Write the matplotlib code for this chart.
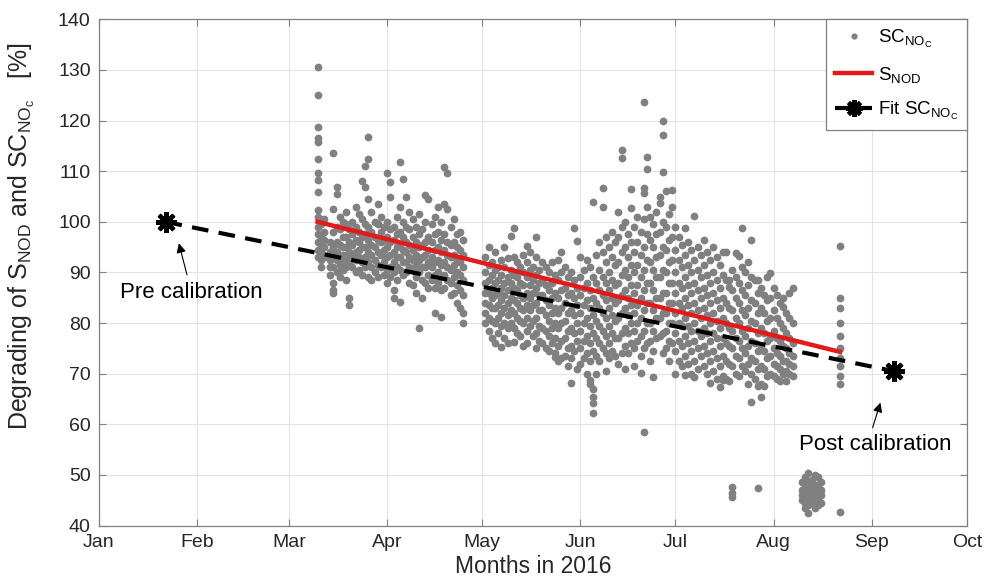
import datetime as dt

import matplotlib.dates as mdates
import matplotlib.pyplot as plt

plt.rcParams['font.family'] = ['Liberation Sans', 'DejaVu Sans']
plt.rcParams['mathtext.fontset'] = 'custom'
plt.rcParams['mathtext.rm'] = 'Liberation Sans'
plt.rcParams['mathtext.it'] = 'Liberation Sans'
plt.rcParams['mathtext.default'] = 'rm'

# SC_NO_C readings in %, per day of month: (day, [values])
mar = [
    (10, [130.5, 125, 118.8, 116.5, 115.7, 112.4, 109.7, 108.2, 105.9, 102.3, 101, 99, 97.5, 96, 94.5, 93]),
    (11, [99.5, 97, 95.5, 94, 92.5, 91]),
    (12, [100.5, 98, 96.5, 95, 93]),
    (14, [96, 94, 92.5, 91, 89.5]),
    (15, [113.5, 102.5, 98, 95, 93, 91, 88, 86.5, 86]),
    (16, [106.9, 105.5, 99, 96, 94, 92.5, 90]),
    (17, [101, 98.5, 95.5, 93, 91.5, 89]),
    (18, [100, 97, 95, 93.5, 92, 90.5]),
    (19, [102, 99.5, 97, 95, 93, 91, 88.5]),
    (20, [98.5, 96, 94, 92, 85, 83.5]),
    (21, [100, 97.5, 95.5, 93.5, 91]),
    (22, [103, 99, 96.5, 94, 92.5, 90]),
    (23, [101.5, 98, 96, 94.5, 93, 90.5]),
    (24, [108, 100.5, 97, 95, 92, 89.5]),
    (25, [111, 106.9, 99.5, 97.5, 95, 93, 91]),
    (26, [116.8, 112.5, 104.5, 99, 96.5, 94, 92, 89]),
    (27, [102, 98, 95.5, 93.5, 91, 88.5]),
    (28, [100, 97, 95, 92.5, 90]),
    (29, [103.5, 99.5, 96.5, 94, 91.5, 89]),
    (30, [101, 98, 96, 93.5, 91]),
    (31, [99, 96.5, 94.5, 92, 89.5]),
]
apr = [
    (1, [109.6, 100, 97, 95, 93, 90.5, 88]),
    (2, [107.9, 104.9, 98.5, 96, 93.5, 91, 89]),
    (3, [99, 96.5, 94, 92, 90, 86.5, 85]),
    (4, [101, 97.5, 95, 93, 91, 88.5]),
    (5, [111.9, 103, 98, 95.5, 93, 90.5, 84.2]),
    (6, [108.4, 100, 97, 94.5, 92, 89.5]),
    (7, [104.9, 99, 96, 94, 92, 90]),
    (8, [102, 98.5, 95.5, 93, 91, 88]),
    (9, [100.5, 97, 94.5, 92.5, 90.5, 87.5]),
    (10, [99, 96, 93.5, 91.5, 89, 86]),
    (11, [101.5, 97.5, 95, 92.5, 90, 79]),
    (12, [98.5, 95.5, 93, 91, 88.5, 85]),
    (13, [105.3, 100, 96, 93.5, 91, 88]),
    (14, [104.5, 97, 94.5, 92, 89.5, 87]),
    (15, [99.5, 96, 93, 91, 88.5]),
    (16, [101, 97.5, 94.5, 92, 89.5, 87, 82]),
    (17, [103, 98, 95, 92.5, 90, 88]),
    (18, [100, 96.5, 94, 91.5, 89, 86.5, 81.2]),
    (19, [110.8, 103.5, 97.5, 94.5, 92, 89.5, 87]),
    (20, [109.7, 102.5, 96, 93.5, 91, 88.5]),
    (21, [99, 95.5, 93, 90.5, 88, 85.5]),
    (22, [100.5, 96, 93.5, 91.5, 89, 86]),
    (23, [97.5, 95, 92.5, 90, 87.5, 84]),
    (24, [98, 94.5, 92, 89.5, 86.5, 83]),
    (25, [96.5, 93.5, 91, 88.5, 85.5, 82, 80]),
]
may = [
    (2, [93, 90, 88, 86, 84, 82, 80]),
    (3, [95, 91.5, 88.5, 86, 83.5, 81, 78.5]),
    (4, [92, 89.5, 87, 85, 83, 80.5, 77]),
    (5, [94, 90.5, 88, 85.5, 83, 80, 76]),
    (6, [91, 88.5, 86, 83.5, 81, 78]),
    (7, [92.5, 89.5, 87, 84.5, 82, 79.5, 75.3]),
    (8, [95, 91, 88, 85.5, 83, 80, 77]),
    (9, [92.8, 89, 86.5, 84, 81.5, 79, 76]),
    (10, [97.2, 90.5, 88, 85, 82.5, 80]),
    (11, [98.8, 93, 89.5, 87, 84.5, 82, 79, 76.3]),
    (12, [92, 89, 86.5, 84, 81, 78]),
    (13, [91, 88, 85.5, 83, 80.5, 77.5]),
    (14, [93.5, 90, 87.5, 85, 82.5, 80, 75.5]),
    (15, [95.3, 92, 89, 86, 83.5, 81, 78.5, 76]),
    (16, [94, 90.5, 87.5, 85, 82.5, 79.5]),
    (17, [91, 88.5, 86, 83.5, 80.5, 77.5]),
    (18, [97, 93, 89.5, 87, 84, 81, 78, 75]),
    (19, [90.5, 88, 85.5, 82.5, 79.5, 76.5]),
    (20, [92, 88.5, 85.5, 82.5, 79, 76]),
    (21, [91, 87.5, 84.5, 81.5, 78.5, 75]),
    (22, [90, 86.5, 83.5, 80.5, 77.5, 74.5]),
    (23, [92, 88, 85, 82, 79, 76]),
    (24, [89.5, 86, 83, 80, 77, 74, 73.3]),
    (25, [92.4, 88.5, 85, 82, 79, 75.5, 72.5]),
    (26, [94, 90, 86.5, 83, 80, 76.5, 73]),
    (27, [91, 87, 84, 80.5, 77, 73.5]),
    (28, [89, 85.5, 82, 78.5, 75, 71.5]),
    (29, [90, 86, 82.5, 79, 75.5, 73, 68.1]),
    (30, [98.8, 88.5, 85, 81.5, 78, 74.5]),
    (31, [96.2, 87, 83.5, 80, 76.5, 71]),
]
jun = [
    (1, [93, 89, 85.5, 82, 78.5, 75, 72]),
    (2, [90.5, 87, 83.5, 80, 76.5, 73]),
    (3, [92.4, 88, 84.5, 81, 77.5, 74, 70]),
    (4, [91, 86.5, 83, 79.5, 76, 72.5, 68.7, 68]),
    (5, [104, 89, 85, 81.5, 78, 74.5, 67, 65.4, 64.2, 62.3]),
    (6, [93.5, 88, 84, 80.5, 77, 73.5, 70]),
    (7, [96, 90.5, 86.5, 83, 79.5, 76, 72.5]),
    (8, [106.6, 103, 94, 89, 85.5, 82, 78.5, 75]),
    (9, [97, 92, 88, 84.5, 81, 77.5, 74, 70.5]),
    (10, [95, 90, 86.5, 83, 79.5, 76, 73]),
    (11, [98, 93, 88.5, 85, 81.5, 78, 74.5]),
    (12, [96, 91.5, 87.5, 84, 80.5, 77, 73.5]),
    (13, [102, 97, 92, 88, 84.5, 81, 77, 72]),
    (14, [114.2, 112.6, 99, 94, 89.5, 85.5, 82, 78, 74]),
    (15, [100, 95, 90.5, 86.5, 83, 79, 75.5, 71]),
    (16, [97.5, 93, 89, 85, 81.5, 78, 74]),
    (17, [106.5, 102.7, 96, 91.5, 87.5, 83.5, 80, 76]),
    (18, [99, 94, 90, 86, 82, 78.5, 75, 71.5]),
    (19, [101, 96, 91.5, 87.5, 83.5, 80, 76.5]),
    (20, [98, 93.5, 89, 85, 81, 77.5, 73.5, 70.1]),
    (21, [123.7, 106.6, 105.6, 100.5, 95, 90.5, 86.5, 82.5, 78.5, 75, 58.5]),
    (22, [112.8, 110.4, 103, 97.5, 92.5, 88, 84, 80, 76]),
    (23, [101, 96.5, 92, 88, 84, 80, 76.5, 72.5]),
    (24, [99.5, 95, 90.5, 86.5, 82.5, 78.5, 74.5, 69.4]),
    (25, [102, 97.5, 93, 89, 85, 81, 77]),
    (26, [104.9, 103.7, 98, 93.5, 89, 85, 81, 77.5]),
    (27, [120, 117.1, 109.9, 100, 95, 90.5, 86, 82, 78, 74]),
    (28, [106, 99, 94.5, 90, 86, 82, 78.5, 75]),
    (29, [101.5, 96.5, 92, 88, 84, 80, 76.5, 72.5]),
    (30, [106.3, 102.9, 97, 92.5, 88, 84, 80, 76]),
]
jul = [
    (1, [99, 94.5, 90, 86, 82, 78, 74.5, 70]),
    (2, [97, 92.5, 88, 84, 80, 76.5, 72.5]),
    (3, [95.5, 91, 87, 83, 79.5, 75.5, 71.5]),
    (4, [98.8, 93.5, 89, 85, 81, 77.5, 73.5, 69.7]),
    (5, [96, 91.5, 87.5, 83.5, 79.5, 76, 72]),
    (6, [94.5, 90, 86, 82, 78.5, 74.5, 70]),
    (7, [101.1, 92.5, 88, 84, 80, 76.5, 72.5, 69.3]),
    (8, [95, 90.5, 86.5, 82.5, 78.5, 75, 71]),
    (9, [93.5, 89, 85, 81, 77.5, 73.5]),
    (10, [96.5, 91.5, 87, 83, 79, 75.5, 71.5]),
    (11, [94, 89.5, 85.5, 81.5, 78, 74, 70]),
    (12, [92.5, 88, 84, 80, 76.5, 72.5, 68.1]),
    (13, [95, 90, 86, 82, 78, 74.5, 70.5]),
    (14, [93, 88.5, 84.5, 80.5, 77, 73, 69]),
    (15, [91.5, 87, 83, 79, 75.5, 71.5, 67.4]),
    (16, [94, 89.5, 85, 81, 77, 73.5, 69.5, 68.7]),
    (17, [94.1, 88.5, 84, 80, 76, 72.5, 69]),
    (18, [88.5, 87.1, 83, 79, 75.5, 72, 68.5]),
    (19, [90.5, 86.5, 82.5, 78.5, 75, 71.5, 47.6, 46.5, 45.6]),
    (20, [93.8, 89, 85, 81, 77, 73.5, 70]),
    (21, [93.2, 88, 84, 80, 76.5, 73, 69.5]),
    (22, [98.7, 91, 86.5, 82.5, 78.5, 75, 71.5]),
    (23, [90, 85.5, 81.5, 77.5, 74, 70.5]),
    (24, [92, 87.5, 83, 79, 75.5, 72, 68]),
    (25, [96.4, 89, 84.5, 80.5, 76.5, 73, 70, 64.4]),
    (26, [88.5, 84, 80, 76, 72.5, 69]),
    (27, [88.5, 86, 82, 78, 74.5, 71, 67.5, 47.4]),
    (28, [87, 83, 79, 75, 71.5, 68, 65.4]),
    (29, [85.6, 82, 78, 74.5, 71, 67.5]),
    (30, [89, 84.5, 80.5, 76.5, 73, 69.5]),
    (31, [89.9, 85, 81, 77, 73.5, 70]),
]
aug = [
    (1, [87, 82.5, 78.5, 75, 72, 69.5]),
    (2, [85.5, 81, 77, 74, 71.5, 69]),
    (3, [84, 80, 76.5, 73.5, 71, 68.5]),
    (4, [85, 83.2, 79, 75.5, 72.5, 70]),
    (5, [82, 78, 75, 72.5, 70.5, 68.5]),
    (6, [86, 81, 77, 74, 72, 70]),
    (7, [86.9, 80, 76, 73.5, 71.5, 69.5]),
    (10, [48.5, 47, 46, 45]),
    (11, [49.5, 48, 46.5, 45.5, 44.5, 43.5]),
    (12, [50.3, 48.5, 47.5, 46, 45, 44, 42.4]),
    (13, [49, 47.5, 46.5, 45.5, 44.5]),
    (14, [50, 48, 47, 46, 45, 43.5]),
    (15, [49.5, 48, 46.5, 45.5, 44]),
    (16, [48.5, 47, 46, 44.5]),
    (22, [95.3, 85, 83, 80, 77.5, 75, 73, 71.5, 69.5, 68, 42.7]),
]
months = [(3, mar), (4, apr), (5, may), (6, jun), (7, jul), (8, aug)]

# S_NOD linear degradation and the pre/post calibration fit
snod_dates = [dt.date(2016, 3, 10), dt.date(2016, 8, 22)]
snod_vals = [100, 74.3]
fit_dates = [dt.date(2016, 1, 22), dt.date(2016, 9, 8)]
fit_vals = [100, 70.5]

sc_dates = []
sc_vals = []
for m, days in months:
    for d, vals in days:
        for v in vals:
            sc_dates.append(dt.date(2016, m, d))
            sc_vals.append(v)

fig = plt.figure(figsize=(9.85, 5.86), dpi=100)
ax = fig.add_axes([0.1005, 0.1032, 0.881, 0.8638])

ax.plot(sc_dates, sc_vals, 'o', color='#808080', markersize=5.6, markeredgewidth=0,
        label=r'SC$_{NO_C}$', zorder=2)
ax.plot(snod_dates, snod_vals, '-', color='#e31a1c', lw=3.2, label=r'S$_{NOD}$', zorder=3)
ax.plot(fit_dates, fit_vals, color='black', lw=3, linestyle=(0, (4, 2.5)),
        marker=(8, 2, 0), markersize=15, markeredgewidth=3,
        label=r'Fit SC$_{NO_C}$', zorder=4)

arrow = dict(arrowstyle='-|>', color='black', lw=0.8, mutation_scale=14)
ax.annotate('', xy=(dt.date(2016, 1, 26), 96.3), xytext=(dt.date(2016, 1, 29), 89.0),
            arrowprops=arrow)
ax.text(dt.date(2016, 1, 30), 86.1, 'Pre calibration', fontsize=16,
        ha='center', va='center')
ax.annotate('', xy=(dt.date(2016, 9, 4), 64.8), xytext=(dt.date(2016, 9, 1), 58.8),
            arrowprops=arrow)
ax.text(dt.date(2016, 9, 2), 56.1, 'Post calibration', fontsize=16,
        ha='center', va='center')

ax.set_xlim(dt.date(2016, 1, 1), dt.date(2016, 10, 1))
ax.set_ylim(40, 140)
ax.set_yticks(range(40, 141, 10))
ax.xaxis.set_major_locator(mdates.MonthLocator())
ax.xaxis.set_major_formatter(mdates.DateFormatter('%b'))

ax.grid(True, color='#e3e3e3', lw=0.8)
ax.set_axisbelow(True)
for s in ax.spines.values():
    s.set_color('#808080')
    s.set_linewidth(0.9)
ax.tick_params(direction='in', top=True, right=True, length=5, color='#808080',
               labelsize=14, labelcolor='#262626', pad=6)

ax.set_xlabel('Months in 2016', fontsize=16.5, color='#262626', labelpad=3)
ax.set_ylabel(r'Degrading of S$_{NOD}$ and SC$_{NO_c}$   [%]', fontsize=18,
              color='#262626')
ax.yaxis.set_label_coords(-0.071, 0.572)

leg = ax.legend(loc='upper right', borderaxespad=0, fontsize=13.5, fancybox=False,
                framealpha=1, edgecolor='#808080', handlelength=2.0,
                labelspacing=0.8, borderpad=0.45, markerscale=0.8,
                handletextpad=0.3)
leg.get_frame().set_linewidth(0.9)

fig.savefig('out.png', dpi=100)
